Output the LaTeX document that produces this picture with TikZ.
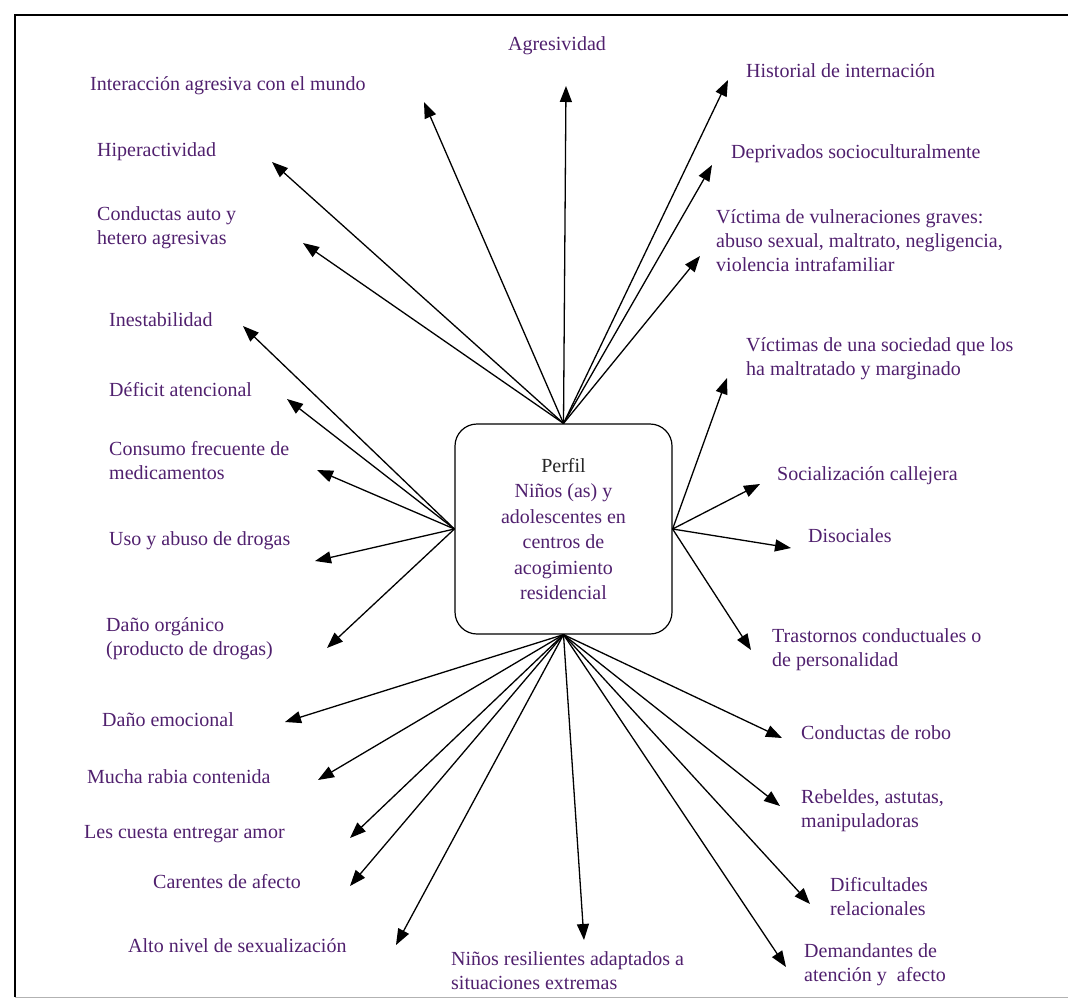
\documentclass[tikz,border=0pt]{standalone}
\usepackage{fontspec}
\setmainfont{Liberation Serif}
\usetikzlibrary{arrows.meta}
\definecolor{lila}{RGB}{80,32,110}
\begin{document}
\begin{tikzpicture}[x=1pt,y=-1pt,
  etiq/.style={anchor=west,align=left,inner sep=0pt,text=lila,font=\fontsize{20}{24}\selectfont},
  flecha/.style={-{Triangle[length=16pt,width=12pt]},line width=1.3pt}]
\useasboundingbox (0,0) rectangle (1068,999);
\draw[line width=1.6pt] (15,997) -- (15,15) -- (1068,15);
\draw[gray!60,line width=1pt] (15,997) -- (1068,997);
% centro
\node[draw,line width=1.2pt,rounded corners=22pt,minimum width=217pt,minimum height=210pt,align=center,text=lila,font=\fontsize{20}{25.5}\selectfont] (perfil) at (563.5,529)
  {\textcolor{black!85}{Perfil}\\Niños (as) y\\adolescentes en\\centros de\\acogimiento\\residencial};
% arriba
\node[etiq,anchor=center] (agr) at (557,46) {Agresividad};
\node[etiq] (int) at (90,86) {Interacción agresiva con el mundo};
\node[etiq] (hip) at (97,152) {Hiperactividad};
\node[etiq] (cau) at (97,228) {Conductas auto y\\hetero agresivas};
\node[etiq] (his) at (746,71) {Historial de internación};
\node[etiq] (dep) at (731,154) {Deprivados socioculturalmente};
\node[etiq] (vic) at (716,241) {Víctima de vulneraciones graves:\\abuso sexual, maltrato, negligencia,\\violencia intrafamiliar};
% izquierda
\node[etiq] (ine) at (109,320) {Inestabilidad};
\node[etiq] (def) at (109,390) {Déficit atencional};
\node[etiq] (con) at (109,461) {Consumo frecuente de\\medicamentos};
\node[etiq] (uso) at (109,541) {Uso y abuso de drogas};
\node[etiq] (dor) at (106,639) {Daño orgánico\\(producto de drogas)};
% derecha
\node[etiq] (vso) at (746,359) {Víctimas de una sociedad que los\\ha maltratado y marginado};
\node[etiq] (soc) at (777,476) {Socialización callejera};
\node[etiq] (dis) at (808,536) {Disociales};
\node[etiq] (tra) at (772,650) {Trastornos conductuales o\\de personalidad};
% abajo
\node[etiq] (dem) at (102,720) {Daño emocional};
\node[etiq] (rab) at (87,777) {Mucha rabia contenida};
\node[etiq] (les) at (84,834) {Les cuesta entregar amor};
\node[etiq] (car) at (153,882) {Carentes de afecto};
\node[etiq] (alt) at (128,946) {Alto nivel de sexualización};
\node[etiq] (nin) at (451,971) {Niños resilientes adaptados a\\situaciones extremas};
\node[etiq] (rob) at (801,733) {Conductas de robo};
\node[etiq] (reb) at (801,811) {Rebeldes, astutas,\\manipuladoras};
\node[etiq] (dif) at (830,897) {Dificultades\\relacionales};
\node[etiq] (dma) at (804,965) {Demandantes de\\atención y~ afecto};
% puntas
\coordinate (tAgr) at (566,86);
\coordinate (tInt) at (424,102);
\coordinate (tHip) at (272,162);
\coordinate (tCau) at (303,243);
\coordinate (tHis) at (728,80);
\coordinate (tDep) at (712,165);
\coordinate (tVic) at (700,256);
\coordinate (tIne) at (243,326);
\coordinate (tDef) at (287,399);
\coordinate (tCon) at (317,470);
\coordinate (tUso) at (315,561);
\coordinate (tDor) at (327,648);
\coordinate (tVso) at (727,378);
\coordinate (tSoc) at (760,484);
\coordinate (tDis) at (791,548);
\coordinate (tTra) at (751,650);
\coordinate (tDem) at (285,722);
\coordinate (tRab) at (318,780);
\coordinate (tLes) at (350,838);
\coordinate (tCar) at (350,886);
\coordinate (tAlt) at (396,945);
\coordinate (tNin) at (584,940);
\coordinate (tRob) at (782,738);
\coordinate (tReb) at (780,806);
\coordinate (tDif) at (810,904);
\coordinate (tDma) at (786,967);
% flechas
\foreach \p in {tAgr,tInt,tHip,tCau,tHis,tDep,tVic}
  \draw[flecha] (perfil.north) -- (\p);
\foreach \p in {tIne,tDef,tCon,tUso,tDor}
  \draw[flecha] (perfil.west) -- (\p);
\foreach \p in {tVso,tSoc,tDis,tTra}
  \draw[flecha] (perfil.east) -- (\p);
\foreach \p in {tDem,tRab,tLes,tCar,tAlt,tNin,tRob,tReb,tDif,tDma}
  \draw[flecha] (perfil.south) -- (\p);
\end{tikzpicture}
\end{document}
